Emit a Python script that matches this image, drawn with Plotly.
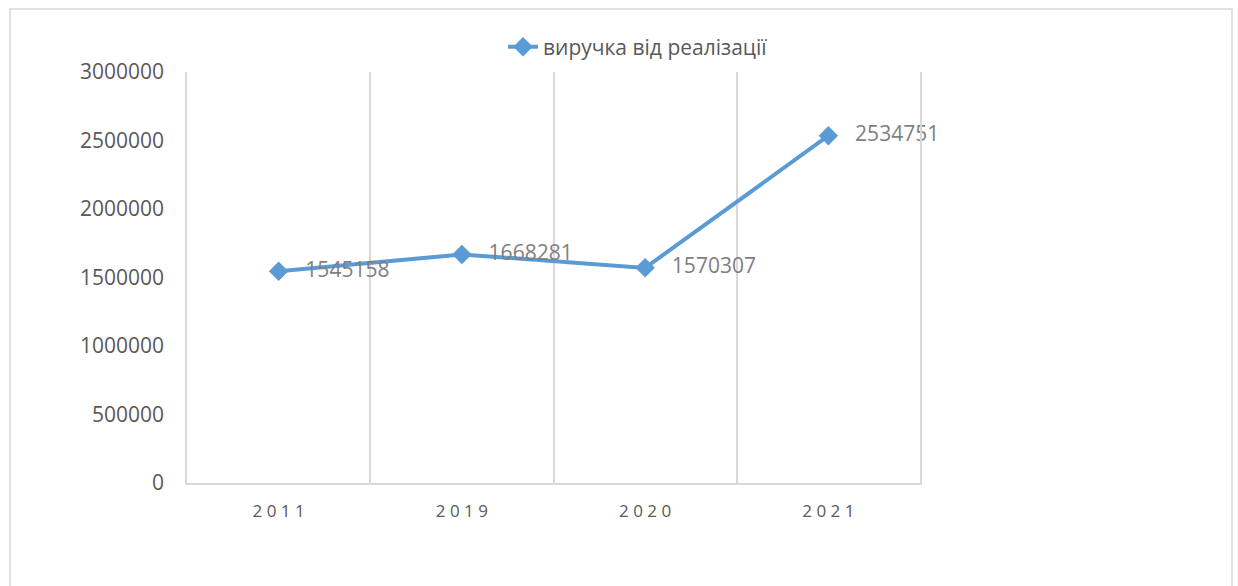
import plotly.graph_objects as go

categories = ["2011", "2019", "2020", "2021"]
values = [1545158, 1668281, 1570307, 2534751]
series_name = "виручка від реалізації"
y_ticks = [0, 500000, 1000000, 1500000, 2000000, 2500000, 3000000]

W, H = 1238, 586
L, R, T, B = 187, 920, 72, 483

def px_x(p):
    return (p - L) / (R - L)

def px_y(p):
    return (B - p) / (B - T)

fig = go.Figure()
fig.add_trace(go.Scatter(
    x=categories,
    y=values,
    name=series_name,
    mode="lines+markers+text",
    line=dict(color="#5b9bd5", width=4),
    marker=dict(symbol="diamond", size=15, color="#5b9bd5"),
    text=["   " + str(v) for v in values],
    textposition="middle right",
    textfont=dict(family="Open Sans", size=21, color="#7f7f7f"),
    cliponaxis=False,
))

fig.update_layout(
    width=W, height=H,
    margin=dict(l=L, r=W - R, t=T, b=H - B),
    paper_bgcolor="white",
    plot_bgcolor="white",
    font=dict(family="Open Sans", color="#595959"),
    showlegend=True,
    legend=dict(
        x=px_x(638), y=px_y(47), xanchor="center", yanchor="middle",
        orientation="h",
        font=dict(family="Open Sans", size=21, color="#595959"),
        bgcolor="rgba(0,0,0,0)",
    ),
    xaxis=dict(
        type="category",
        tickmode="array",
        tickvals=categories,
        ticktext=[" ".join(c) for c in categories],
        tickson="boundaries",
        ticks="",
        showgrid=True,
        gridcolor="#d9d9d9",
        gridwidth=1.5,
        showline=True,
        linecolor="#d9d9d9",
        linewidth=1.5,
        tickfont=dict(family="Open Sans", size=17, color="#595959"),
        range=[-0.5, 3.5],
        fixedrange=True,
        ticklabelstandoff=12,
    ),
    yaxis=dict(
        range=[0, 3000000],
        tickmode="array",
        tickvals=y_ticks,
        ticktext=[str(v) for v in y_ticks],
        showgrid=False,
        zeroline=False,
        showline=True,
        mirror=True,
        linecolor="#d9d9d9",
        linewidth=1.5,
        ticks="",
        tickfont=dict(family="Open Sans", size=21, color="#595959"),
        ticklabelstandoff=17,
        fixedrange=True,
    ),
    shapes=[dict(
        type="rect", xref="paper", yref="paper",
        x0=px_x(10), x1=px_x(1232), y0=px_y(592), y1=px_y(9),
        line=dict(color="#d9d9d9", width=1.5),
        fillcolor="rgba(0,0,0,0)",
        layer="below",
    )],
)

fig.write_html("out.html", config={"displayModeBar": False},
               post_script="document.body.style.margin='0';")
